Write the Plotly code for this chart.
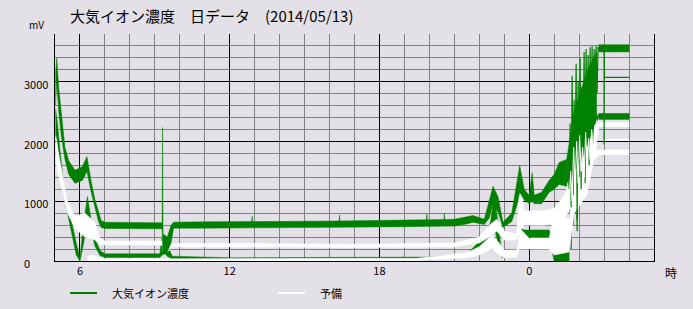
import plotly.graph_objects as go

# ---------------- data ----------------
# hours since 0:00 of 2014/05/13 (24+ = next day)
G1_t  = [5.02, 5.07, 5.15, 5.25, 5.4, 5.55, 5.8, 6.1, 6.28, 6.45, 6.6, 6.75, 6.85, 7.0, 8.0, 9.0, 9.29, 9.31, 9.33, 9.5, 9.65, 9.75,
         11.0, 12.88, 12.9, 12.92, 15.0, 16.38, 16.4, 16.42, 19.0, 19.88, 19.9, 19.92, 20.58, 20.6, 20.62,
         21.0, 21.5, 21.75, 22.2, 22.4, 22.55, 22.75, 22.95, 23.3, 23.5, 23.62, 23.8, 24.0, 24.12,
         24.2, 24.5, 24.8, 25.0, 25.2, 25.5]
G1_lo = [2600, 3000, 2500, 2100, 1700, 1450, 1300, 1350, 1500, 1150, 900, 650, 560, 545, 540, 540, 540, 540, 100, 150, 300, 550,
         550, 555, 555, 555, 560, 565, 565, 565, 575, 580, 580, 580, 585, 585, 585,
         585, 620, 650, 610, 720, 950, 820, 560, 660, 920, 1150, 1020, 960, 1000,
         960, 960, 1150, 1200, 1280, 1250]
G1_hi = [3100, 3400, 2900, 2450, 1900, 1680, 1520, 1580, 1750, 1330, 1030, 820, 680, 650, 640, 640, 640, 2235, 450, 400, 600, 650,
         655, 660, 750, 660, 665, 670, 770, 670, 685, 690, 790, 690, 695, 800, 695,
         700, 740, 760, 700, 1000, 1250, 1080, 650, 800, 1300, 1600, 1200, 1100, 1480,
         1100, 1150, 1350, 1450, 1650, 1700]
# dense core of the main series around 1-2 o'clock
G1m_t  = [25.5, 25.8, 26.1, 26.4, 26.7]
G1m_lo = [1300, 1500, 1700, 2000, 2400]
G1m_hi = [1700, 2500, 2900, 3250, 3500]
# spiky part of the main series around 1-2 o'clock
G1s_t = [25.5, 25.55, 25.6, 25.64, 25.68, 25.72, 25.76, 25.8, 25.84, 25.88, 25.92, 25.96, 26.0, 26.04, 26.08, 26.12, 26.16,
         26.2, 26.24, 26.28, 26.32, 26.36, 26.4, 26.44, 26.48, 26.52, 26.56, 26.6, 26.64, 26.68, 26.72, 26.76, 26.8]
G1s_v = [1300, 1650, 1200, 2300, 900, 3100, 1100, 2700, 1500, 3300, 700, 3000, 1400, 3400, 1200, 2900, 1800,
         3500, 1300, 3550, 2000, 3450, 1600, 3580, 2200, 3600, 1900, 3550, 2500, 3600, 2800, 3580, 3550]
G1e_t  = [26.78, 28.0]
G1e_lo = [3500, 3500]
G1e_hi = [3620, 3620]

G2_t  = [5.02, 5.1, 5.2, 5.35, 5.5, 5.65, 5.85, 6.0, 6.15, 6.3, 6.45, 6.6, 6.8, 7.0, 9.2, 9.3, 9.35, 9.5, 9.7, 12.0, 19.9,
         21.5, 21.9, 22.2, 22.45, 22.6, 22.75, 22.9, 23.5, 23.6, 23.8, 24.8, 25.0, 25.6]
G2_lo = [2100, 2000, 1600, 1100, 800, 500, 100, 0, 300, 750, 500, 250, 90, 60, 60, 100, 150, 80, 35, 25, 30,
         60, 180, 300, 400, 550, 300, 60, 50, 300, 400, 400, 0, 0]
G2_hi = [2550, 2300, 1850, 1280, 980, 680, 300, 60, 650, 1080, 680, 380, 180, 120, 120, 450, 400, 250, 80, 55, 65,
         120, 280, 400, 650, 1100, 650, 140, 140, 560, 520, 520, 300, 300]
G2s_t = [25.6, 25.64, 25.68, 25.72, 25.76, 25.8, 25.84, 25.88, 25.92, 25.96, 26.0, 26.04, 26.08, 26.12, 26.16, 26.2,
         26.24, 26.28, 26.32, 26.36, 26.4, 26.44, 26.48, 26.52, 26.56, 26.6, 26.64, 26.68, 26.72, 26.76, 26.8]
G2s_v = [300, 900, 200, 1800, 600, 2200, 800, 1600, 500, 2400, 1000, 2000, 1200, 2500, 1400, 2300,
         1500, 2500, 1800, 2400, 2000, 2500, 2100, 2450, 2200, 2500, 2300, 2470, 2350, 2450, 2400]
G2e_t  = [26.78, 28.0]
G2e_lo = [2370, 2370]
G2e_hi = [2470, 2470]

# flat line and drop column near the end
G3_t = [27.0, 27.0, 27.02, 28.0]
G3_v = [1950, 3600, 3075, 3075]

W1_t  = [5.03, 5.1, 5.28, 5.5, 5.8, 6.2, 6.6, 6.8, 7.0, 9.29, 9.31, 9.33, 9.5, 9.7, 13.0, 17.0, 21.0, 21.6, 22.0, 22.4,
         22.7, 23.0, 23.5, 23.62, 23.8, 24.6, 25.0, 25.4, 25.8, 26.3, 26.6, 26.8, 28.0]
W1_lo = [1700, 1500, 1200, 800, 550, 400, 350, 270, 265, 265, 265, 150, 150, 235, 235, 225, 235, 280, 300, 400,
         500, 350, 350, 500, 600, 600, 620, 700, 1000, 1300, 1700, 2250, 2250]
W1_hi = [2100, 1900, 1500, 1000, 750, 800, 650, 380, 335, 335, 1190, 350, 350, 295, 295, 280, 300, 360, 400, 600,
         700, 500, 450, 1300, 840, 840, 880, 1100, 1500, 1900, 2250, 2320, 2320]
# white streaks drawn over the dense green region
W1s_t = [25.6, 25.66, 25.72, 25.78, 25.84, 25.9, 25.96, 26.02, 26.08, 26.14, 26.2, 26.26, 26.32, 26.38, 26.44, 26.5, 26.56, 26.62, 26.68, 26.74]
W1s_v = [900, 1500, 1000, 1900, 1200, 2000, 1300, 2100, 1500, 1900, 1400, 2150, 1600, 2050, 1700, 2200, 1800, 2250, 1900, 2280]

W2_t  = [6.3, 6.5, 6.8, 7.0, 19.5, 21.5, 22.0, 22.5, 22.8, 23.0, 23.5, 23.6, 24.0, 24.8, 25.0, 25.6, 25.8, 26.3, 26.6, 26.8, 28.0]
W2_lo = [0, 0, 0, 0, 10, 50, 100, 200, 100, 50, 50, 200, 200, 200, 100, 150, 800, 1100, 1700, 1780, 1780]
W2_hi = [80, 100, 45, 35, 45, 140, 240, 430, 300, 180, 180, 560, 380, 380, 800, 700, 1300, 1700, 1850, 1860, 1860]

W3_t = [27.0, 28.0]
W3_v = [2030, 2030]

X_TICKS = [6, 12, 18, 24]
X_TICKTEXT = ["6", "12", "18", "0"]
Y_TICKS = [0, 1000, 2000, 3000]
TITLE = "大気イオン濃度　日データ　(2014/05/13)"
SERIES_NAMES = ["大気イオン濃度", "予備"]

GREEN = "#008000"
WHITE = "#FFFFFF"
BG = "#E4E0E8"
FONT = "Noto Sans CJK JP"

fig = go.Figure()


def band(t, lo, hi, color):
    xs = list(t) + list(reversed(t))
    ys = list(hi) + list(reversed(lo))
    fig.add_trace(go.Scatter(x=xs, y=ys, mode="lines", fill="toself", fillcolor=color,
                             line=dict(color=color, width=0.5), showlegend=False, hoverinfo="skip"))


def line(t, v, color, w=1.0):
    fig.add_trace(go.Scatter(x=t, y=v, mode="lines", line=dict(color=color, width=w),
                             showlegend=False, hoverinfo="skip"))


band(G2_t, G2_lo, G2_hi, GREEN)
line(G2s_t, G2s_v, GREEN, 1.2)
band(G2e_t, G2e_lo, G2e_hi, GREEN)
band(W2_t, W2_lo, W2_hi, WHITE)
band(W1_t, W1_lo, W1_hi, WHITE)
line(W3_t, W3_v, WHITE, 2)
band(G1_t, G1_lo, G1_hi, GREEN)
band(G1m_t, G1m_lo, G1m_hi, GREEN)
line(G1s_t, G1s_v, GREEN, 1.2)
band(G1e_t, G1e_lo, G1e_hi, GREEN)
line(G3_t, G3_v, GREEN, 1.2)
line(W1s_t, W1s_v, WHITE, 1.0)

# plot area: x 55..654 px, y 34..261 px
L, R, T, B = 55, 654, 34, 261
W, H = 693, 309
pw, ph = R - L, B - T

def px_x(p):
    return (p - L) / pw

def px_y(p):
    return (B - p) / ph

fig.update_layout(
    width=W, height=H,
    margin=dict(l=L, r=W - R, t=T, b=H - B),
    paper_bgcolor=BG, plot_bgcolor=BG,
    font=dict(family=FONT, size=11, color="#000000"),
    showlegend=False,
    xaxis=dict(range=[5, 29], tickmode="array", tickvals=X_TICKS, ticktext=X_TICKTEXT,
               showgrid=True, gridcolor="#000000", gridwidth=1, zeroline=False,
               showline=True, linecolor="#000000", linewidth=1, ticks="",
               tickfont=dict(family=FONT, size=11, color="#000000"),
               minor=dict(tickmode="linear", tick0=0, dtick=1, showgrid=True, gridcolor="#808080", gridwidth=1)),
    yaxis=dict(range=[0, 3800], tickmode="linear", tick0=0, dtick=1000,
               showgrid=True, gridcolor="#000000", gridwidth=1, zeroline=False,
               showline=True, mirror=True, linecolor="#000000", linewidth=1, ticks="",
               showticklabels=False,
               minor=dict(tickmode="linear", tick0=0, dtick=200, showgrid=True, gridcolor="#808080", gridwidth=1)),
)

ann = []
for v in Y_TICKS:
    ann.append(dict(x=px_x(22), y=v, xref="paper", yref="y", text=str(v), showarrow=False,
                    xanchor="left", yanchor="middle", yshift=-2, font=dict(size=11, color="#000000")))
ann.append(dict(x=px_x(68), y=px_y(15), xref="paper", yref="paper", text=TITLE, showarrow=False,
                xanchor="left", yanchor="middle", font=dict(size=15, color="#000000")))
ann.append(dict(x=px_x(27), y=px_y(25), xref="paper", yref="paper", text="mV", showarrow=False,
                xanchor="left", yanchor="middle", font=dict(size=10, color="#000000")))
ann.append(dict(x=px_x(663), y=px_y(272), xref="paper", yref="paper", text="時", showarrow=False,
                xanchor="left", yanchor="middle", font=dict(size=12, color="#000000")))
# legend
ann.append(dict(x=px_x(110), y=px_y(293), xref="paper", yref="paper", text=SERIES_NAMES[0], showarrow=False,
                xanchor="left", yanchor="middle", font=dict(size=11, color="#000000")))
ann.append(dict(x=px_x(318), y=px_y(293), xref="paper", yref="paper", text=SERIES_NAMES[1], showarrow=False,
                xanchor="left", yanchor="middle", font=dict(size=11, color="#000000")))
fig.update_layout(annotations=ann)

fig.add_shape(type="line", xref="paper", yref="paper", x0=px_x(70), x1=px_x(97), y0=px_y(293), y1=px_y(293),
              line=dict(color=GREEN, width=2))
fig.add_shape(type="line", xref="paper", yref="paper", x0=px_x(278), x1=px_x(305), y0=px_y(293), y1=px_y(293),
              line=dict(color=WHITE, width=2))

fig.write_html("out.html")
